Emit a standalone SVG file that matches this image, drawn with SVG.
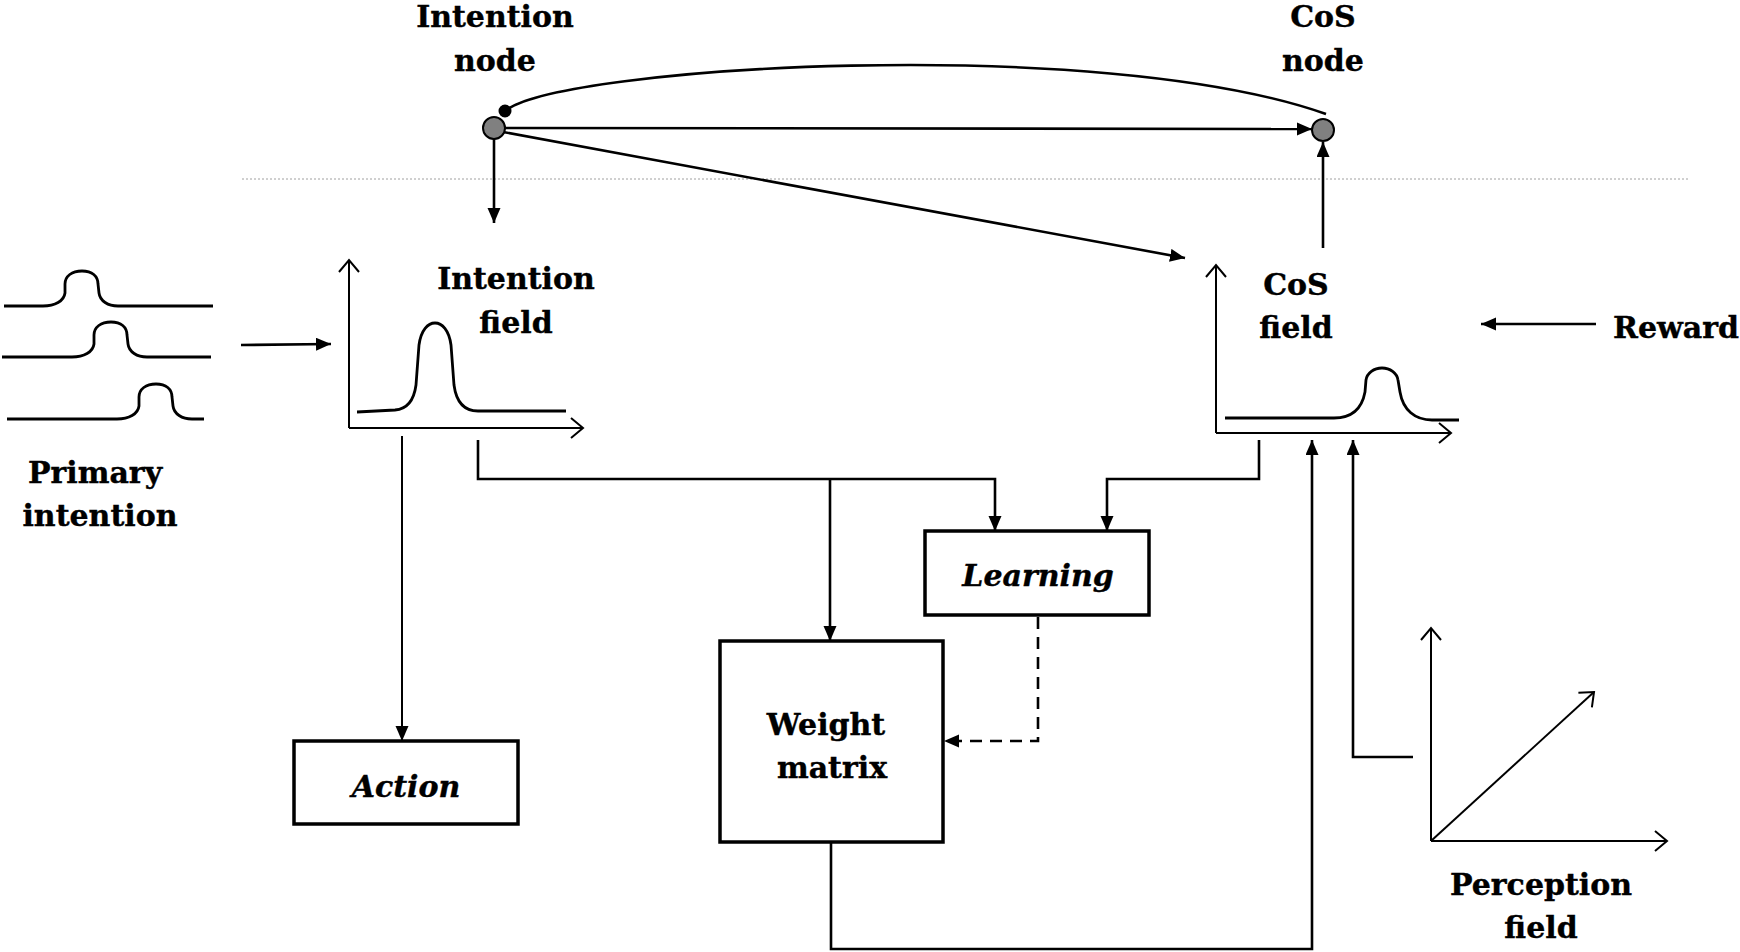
<svg xmlns="http://www.w3.org/2000/svg" width="1740" height="952" viewBox="0 0 1740 952">
<style>
.t{font-family:"DejaVu Serif","Liberation Serif",serif;font-weight:bold;font-size:30px;fill:#000;stroke:#000;stroke-width:0.4;text-anchor:middle}
.ti{font-style:italic}
.ln{fill:none;stroke:#000;stroke-width:2.6}
.ax{fill:none;stroke:#000;stroke-width:2}
.cv{fill:none;stroke:#000;stroke-width:2.8}
.box{fill:#fff;stroke:#000;stroke-width:3.5}
.nd{fill:#808080;stroke:#000;stroke-width:2}
</style>
<defs>
<marker id="fa" markerUnits="userSpaceOnUse" markerWidth="16" markerHeight="14" refX="15" refY="6.5" orient="auto">
<path d="M0,0 L15,6.5 L0,13 z" fill="#000"/>
</marker>
<marker id="oa" markerUnits="userSpaceOnUse" markerWidth="16" markerHeight="24" refX="13" refY="11" orient="auto">
<path d="M1,1 L13,11 L1,21" fill="none" stroke="#000" stroke-width="2"/>
</marker>
</defs>
<rect width="1740" height="952" fill="#fff"/>
<line x1="242" y1="179" x2="1690" y2="179" stroke="#a0a0a0" stroke-width="1" stroke-dasharray="2,2"/>
<g id="connectors">
<path class="ln" d="M1326,114 C1100,34 560,66 505,111"/>
<circle cx="505" cy="111" r="6.5" fill="#000"/>
<line class="ln" x1="505" y1="128" x2="1312" y2="129" marker-end="url(#fa)"/>
<line class="ln" x1="503" y1="132" x2="1185" y2="258" marker-end="url(#fa)"/>
<line class="ln" x1="494" y1="139" x2="494" y2="223" marker-end="url(#fa)"/>
<line class="ln" x1="1323" y1="248" x2="1323" y2="142" marker-end="url(#fa)"/>
<line class="ln" x1="241" y1="345" x2="331" y2="344" marker-end="url(#fa)"/>
<line class="ln" x1="1596" y1="324" x2="1481" y2="324" marker-end="url(#fa)"/>
<line class="ax" x1="402" y1="436" x2="402" y2="741" marker-end="url(#fa)"/>
<path class="ln" d="M478,440 L478,479 L995,479 L995,531" marker-end="url(#fa)"/>
<path class="ln" d="M830,479 L830,641" marker-end="url(#fa)"/>
<path class="ln" d="M1259,440 L1259,479 L1107,479 L1107,531" marker-end="url(#fa)"/>
<path class="ln" d="M1038,617 L1038,741 L944,741" stroke-width="3" stroke-dasharray="12,8" marker-end="url(#fa)"/>
<path class="ln" d="M831,843 L831,949 L1312,949 L1312,440" marker-end="url(#fa)"/>
<path class="ln" d="M1413,757 L1353,757 L1353,440" marker-end="url(#fa)"/>
</g>
<g id="intention-node">
<circle class="nd" cx="494" cy="128" r="11"/>
<text class="t" x="495" y="27">Intention</text>
<text class="t" x="495" y="71">node</text>
</g>
<g id="cos-node">
<circle class="nd" cx="1323" cy="130" r="11"/>
<text class="t" x="1323" y="27">CoS</text>
<text class="t" x="1323" y="71">node</text>
</g>
<g id="primary-intention">
<path class="cv" d="M4,306 L43,306 C55,306 64,301 65,293 L65,284 C65,276 72,271 82,271 C92,271 98,276 98,284 L99,293 C100,301 108,306 118,306 L213,306"/>
<path class="cv" d="M2,357 L72,357 C84,357 93,352 94,344 L94,335 C94,327 101,322 111,322 C121,322 127,327 127,335 L128,344 C129,352 137,357 147,357 L211,357"/>
<path class="cv" d="M7,419 L117,419 C129,419 138,414 139,406 L139,397 C139,389 146,384 156,384 C166,384 172,389 172,397 L173,406 C174,414 182,419 192,419 L204,419"/>
<text class="t" x="95" y="483">Primary</text>
<text class="t" x="100" y="526">intention</text>
</g>
<g id="intention-field">
<path class="ax" d="M349,428 L349,260" marker-end="url(#oa)"/>
<path class="ax" d="M349,428 L583,428" marker-end="url(#oa)"/>
<path class="cv" d="M357,412 L395,410 C408,409 414,400 416,385 L419,345 C421,330 428,323 435,323 C442,323 449,330 451,345 L454,385 C456,400 462,411 478,411 L566,411"/>
<text class="t" x="516" y="289">Intention</text>
<text class="t" x="516" y="333">field</text>
</g>
<g id="cos-field">
<path class="ax" d="M1216,433 L1216,265" marker-end="url(#oa)"/>
<path class="ax" d="M1216,433 L1451,433" marker-end="url(#oa)"/>
<path class="cv" d="M1225,418 L1334,418 C1352,418 1362,408 1365,392 L1366,380 C1367,373 1374,368 1382,368 C1390,368 1397,373 1398,380 L1400,392 C1403,410 1415,420 1432,420 L1459,420"/>
<text class="t" x="1296" y="295">CoS</text>
<text class="t" x="1296" y="338">field</text>
</g>
<g id="reward">
<text class="t" x="1676" y="338">Reward</text>
</g>
<g id="perception-field">
<path class="ax" d="M1431,841 L1431,628" marker-end="url(#oa)"/>
<path class="ax" d="M1431,841 L1667,841" marker-end="url(#oa)"/>
<path class="ax" d="M1431,841 L1594,692" marker-end="url(#oa)"/>
<text class="t" x="1541" y="895">Perception</text>
<text class="t" x="1541" y="938">field</text>
</g>
<g id="action">
<rect class="box" x="294" y="741" width="224" height="83"/>
<text class="t ti" x="406" y="797">Action</text>
</g>
<g id="learning">
<rect class="box" x="925" y="531" width="224" height="84"/>
<text class="t ti" x="1038" y="586">Learning</text>
</g>
<g id="weight-matrix">
<rect class="box" x="720" y="641" width="223" height="201"/>
<text class="t" x="826" y="735">Weight</text>
<text class="t" x="832" y="778">matrix</text>
</g>
</svg>
